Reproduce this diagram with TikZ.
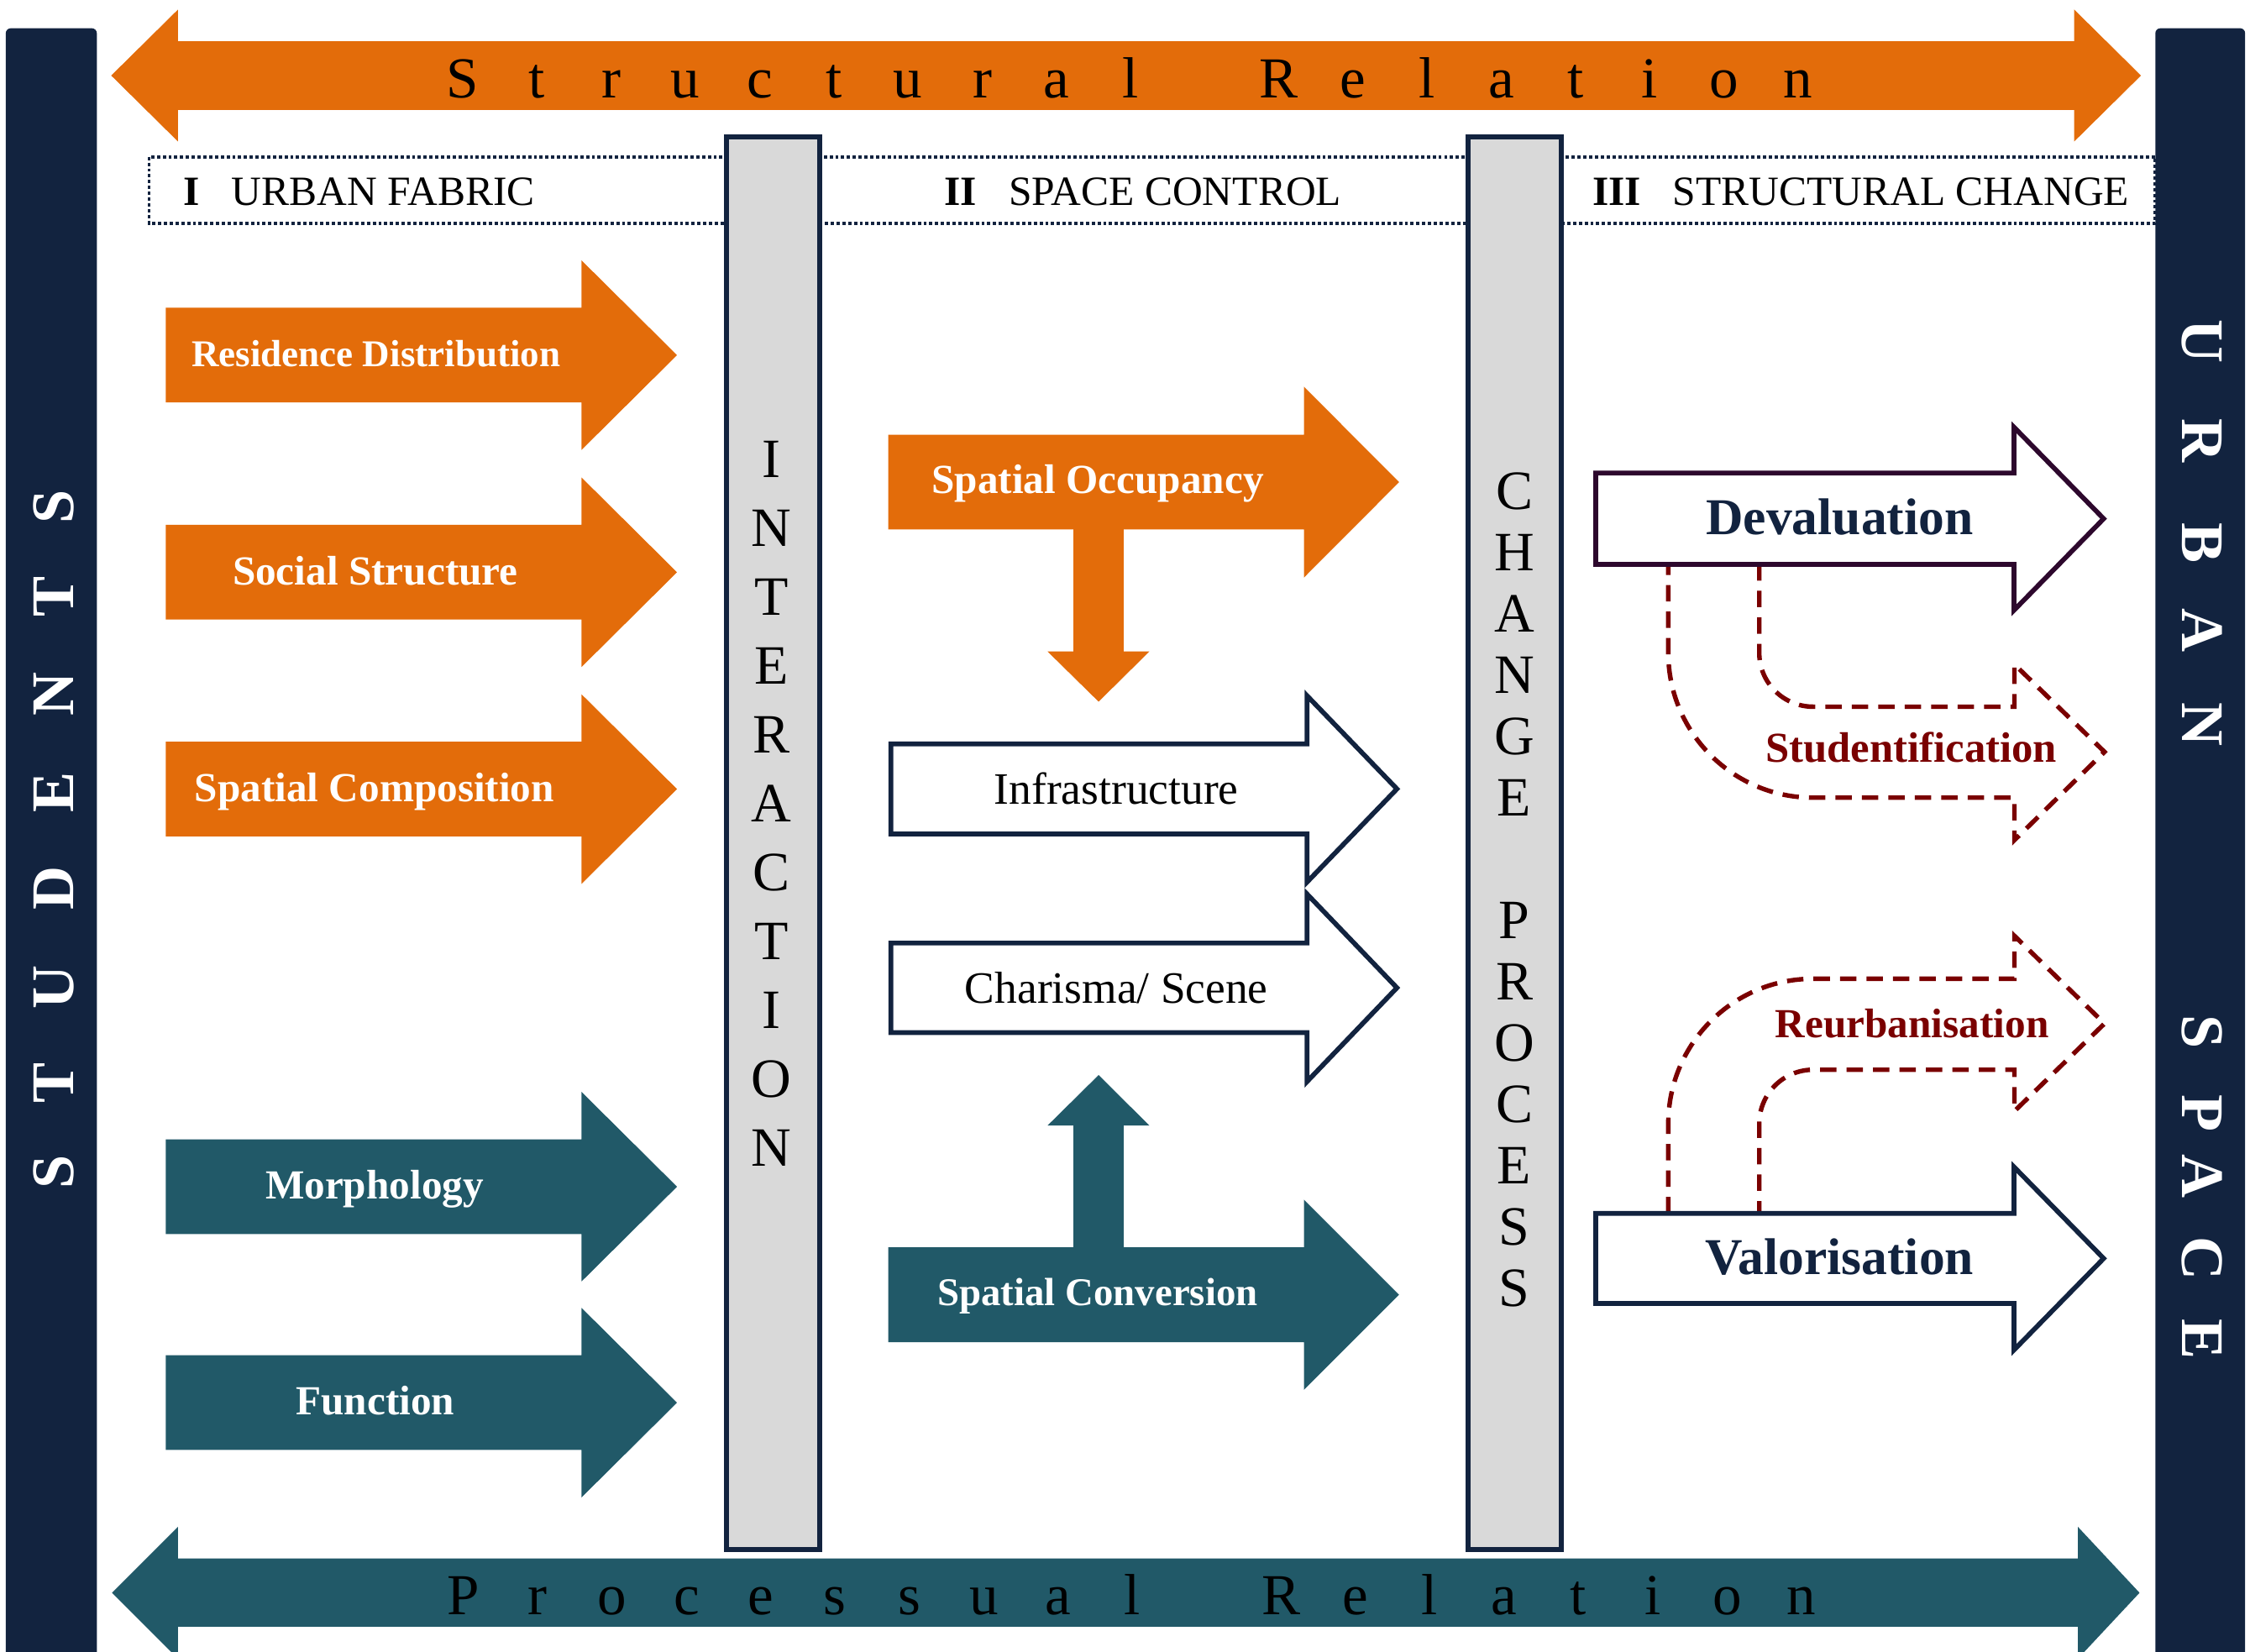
\documentclass[tikz,border=0pt]{standalone}
\usepackage{fontspec}
\setmainfont{Liberation Serif}
\definecolor{navy}{RGB}{18,35,63}
\definecolor{orng}{RGB}{227,108,10}
\definecolor{tealb}{RGB}{33,89,104}
\definecolor{colgray}{RGB}{217,217,217}
\definecolor{dred}{RGB}{122,0,0}
\definecolor{plum}{RGB}{45,8,45}
% #1 style, #2 left x, #3 centre y, #4 head base x, #5 tip x, #6 shaft half height, #7 head half height
\newcommand{\harrow}[7]{\path[#1] (#2,#3-#6) -- (#4,#3-#6) -- (#4,#3-#7) -- (#5,#3) -- (#4,#3+#7) -- (#4,#3+#6) -- (#2,#3+#6) -- cycle;}
\begin{document}
\begin{tikzpicture}[x=0.02cm,y=-0.02cm,
  lab/.style={inner sep=0pt, align=center},
  wlab/.style={lab,text=white,font=\fontsize{16.4pt}{20pt}\selectfont\bfseries,text height=10.9pt,text depth=0pt},
  mlab/.style={lab,text=black,font=\fontsize{17.8pt}{21pt}\selectfont,text height=11.8pt,text depth=0pt},
  vlab/.style={lab,text=navy,font=\fontsize{20.5pt}{24pt}\selectfont\bfseries,text height=13.6pt,text depth=0pt},
  rlab/.style={lab,text=dred,font=\fontsize{16.9pt}{21pt}\selectfont\bfseries,text height=11.2pt,text depth=0pt},
  hdr/.style={inner sep=0pt,anchor=base west,font=\fontsize{16.5pt}{20pt}\selectfont},
  rel/.style={inner sep=0pt,anchor=base,font=\fontsize{23pt}{27pt}\selectfont},
  colletter/.style={inner sep=0pt,anchor=base,font=\fontsize{22pt}{26pt}\selectfont},
  sideletter/.style={inner sep=0pt,anchor=base,text=white,font=\fontsize{24pt}{28pt}\selectfont\bfseries},
  outl/.style={draw=navy,line width=1.9pt,fill=white,line join=miter},
  dsh/.style={draw=dred,line width=1.8pt,dash pattern=on 6.5pt off 4pt,line join=miter},
  hdrline/.style={draw=navy,line width=1.2pt,dash pattern=on 1.3pt off 1pt},
  colbox/.style={draw=navy,line width=2pt,fill=colgray},
  sidebar/.style={fill=navy,rounded corners=2pt}
]
\useasboundingbox (0,0) rectangle (1568,1150.7);
\clip (0,0) rectangle (1568,1150.7);

% side bars
\path[sidebar] (4,19.7) rectangle (67.5,1180);
\path[sidebar] (1502,19.7) rectangle (1564.6,1180);
\foreach \c/\yy [count=\i] in {S/816.6,T/754.5,U/688,D/619,E/552,N/484,T/416,S/353}
  \node[sideletter,rotate=90] (stu\i) at (51.1,\yy) {\c};
\foreach \c/\yy [count=\i] in {U/238,R/307,B/378.7,A/439,N/505,S/719,P/776,A/820,C/877,E/933}
  \node[sideletter,rotate=-90] (urb\i) at (1521,\yy) {\c};

% top and bottom double arrows
\fill[orng] (77.5,52.65) -- (124,6.7) -- (124,28.7) -- (1445.5,28.7) -- (1445.5,6.7) -- (1492,52.65) -- (1445.5,98.6) -- (1445.5,76.6) -- (124,76.6) -- (124,98.6) -- cycle;
\fill[tealb] (78,1110) -- (124,1064) -- (124,1086.1) -- (1448,1086.1) -- (1448,1064) -- (1491,1110) -- (1448,1156) -- (1448,1133.7) -- (124,1133.7) -- (124,1156) -- cycle;
\foreach \c [count=\i from 0] in {S,t,r,u,c,t,u,r,a,l}
  \node[rel] (sr\i) at ({322.6+\i*51.7},68.3) {\c};
\foreach \c [count=\i from 11] in {R,e,l,a,t,i,o,n}
  \node[rel] (sr\i) at ({322.6+\i*51.7},68.3) {\c};
\foreach \c [count=\i from 0] in {P,r,o,c,e,s,s,u,a,l}
  \node[rel] (pr\i) at ({323+\i*51.8},1125.5) {\c};
\foreach \c [count=\i from 11] in {R,e,l,a,t,i,o,n}
  \node[rel] (pr\i) at ({323+\i*51.8},1125.5) {\c};

% header
\path[hdrline] (104,109.3) rectangle (1502,155.7);
\node[hdr] (h1n) at (127.6,142.9) {\textbf{I}};
\node[hdr] (h1) at (161,142.9) {URBAN FABRIC};
\node[hdr] (h2n) at (657.7,142.9) {\textbf{II}};
\node[hdr] (h2) at (702.7,142.9) {SPACE CONTROL};
\node[hdr] (h3n) at (1109.4,142.9) {\textbf{III}};
\node[hdr] (h3) at (1165.4,142.9) {STRUCTURAL CHANGE};

% columns
\path[colbox] (506.5,95.2) rectangle (571,1079.9);
\path[colbox] (1023,95.2) rectangle (1088,1079.9);
\foreach \c [count=\i from 0] in {I,N,T,E,R,A,C,T,I,O,N}
  \node[colletter] (ia\i) at (537.5,{319.8+\i*48+12.8}) {\c};
\foreach \c [count=\i from 0] in {C,H,A,N,G,E}
  \node[colletter] (cp\i) at (1055.3,{342.4+\i*42.7+12.8}) {\c};
\foreach \c [count=\i from 7] in {P,R,O,C,E,S,S}
  \node[colletter] (cp\i) at (1055.3,{342.4+\i*42.7+12.8}) {\c};

% column I arrows
\harrow{fill=orng}{115.5}{247.5}{405.3}{471.8}{33}{66}
\harrow{fill=orng}{115.5}{398.8}{405.3}{471.8}{33}{66}
\harrow{fill=orng}{115.5}{549.9}{405.3}{471.8}{33}{66}
\harrow{fill=tealb}{115.5}{827}{405.3}{471.8}{33}{66}
\harrow{fill=tealb}{115.5}{977.5}{405.3}{471.8}{33}{66}
\node[wlab,font=\fontsize{15pt}{18pt}\selectfont\bfseries,text height=10pt] (resid) at (262,246.5) {Residence Distribution};
\node[wlab] (social) at (261.5,397.8) {Social Structure};
\node[wlab] (scomp) at (261,548.9) {Spatial Composition};
\node[wlab] (morph) at (261,826) {Morphology};
\node[wlab] (func) at (261.5,976.5) {Function};

% column II arrows
\harrow{fill=orng}{619}{336}{908.7}{975}{33}{66.5}
\fill[orng] (748,360) -- (783,360) -- (783,454) -- (801,454) -- (765.6,489) -- (730,454) -- (748,454) -- cycle;
\harrow{outl}{620.8}{549.8}{910.8}{973.5}{31.4}{65}
\harrow{outl}{620.8}{688.4}{910.8}{973.5}{31.2}{65.4}
\fill[tealb] (748,875) -- (748,784.4) -- (730,784.4) -- (765.6,749.2) -- (801,784.4) -- (783,784.4) -- (783,875) -- cycle;
\harrow{fill=tealb}{619}{902.3}{908.7}{975}{33}{66.3}
\node[wlab] (socc) at (765,334.5) {Spatial Occupancy};
\node[mlab] (infra) at (778,550.3) {Infrastructure};
\node[mlab] (chari) at (778,688.6) {Charisma/ Scene};
\node[wlab,font=\fontsize{15.6pt}{19pt}\selectfont\bfseries,text height=10.3pt] (sconv) at (765,901) {Spatial Conversion};

% column III arrows
\draw[dsh] (1226,393.3) -- (1226,455) .. controls (1226,475.7) and (1242.8,492.5) .. (1263.5,492.5) -- (1403.8,492.5) -- (1403.8,463) -- (1466.6,524) -- (1403.8,585.5) -- (1403.8,555.9) -- (1263.5,555.9) .. controls (1207.8,555.9) and (1162.6,510.7) .. (1162.6,455) -- (1162.6,393.3);
\draw[dsh] (1162.6,845.6) -- (1162.6,783) .. controls (1162.6,727.3) and (1207.8,682.1) .. (1263.5,682.1) -- (1403.8,682.1) -- (1403.8,652.2) -- (1466.6,713.3) -- (1403.8,774.4) -- (1403.8,745.5) -- (1263.5,745.5) .. controls (1242.8,745.5) and (1226,762.3) .. (1226,783) -- (1226,845.6);
\harrow{outl,draw=plum}{1112}{361.5}{1403.5}{1466}{31.8}{63.8}
\harrow{outl}{1112}{877}{1403.5}{1466}{31.4}{63.8}
\node[vlab] (deval) at (1282,360.6) {Devaluation};
\node[vlab] (valor) at (1282,876.5) {Valorisation};
\node[rlab] (stud) at (1332,521.5) {Studentification};
\node[rlab,font=\fontsize{16.4pt}{20pt}\selectfont\bfseries] (reurb) at (1332.5,713) {Reurbanisation};
\end{tikzpicture}
\end{document}
